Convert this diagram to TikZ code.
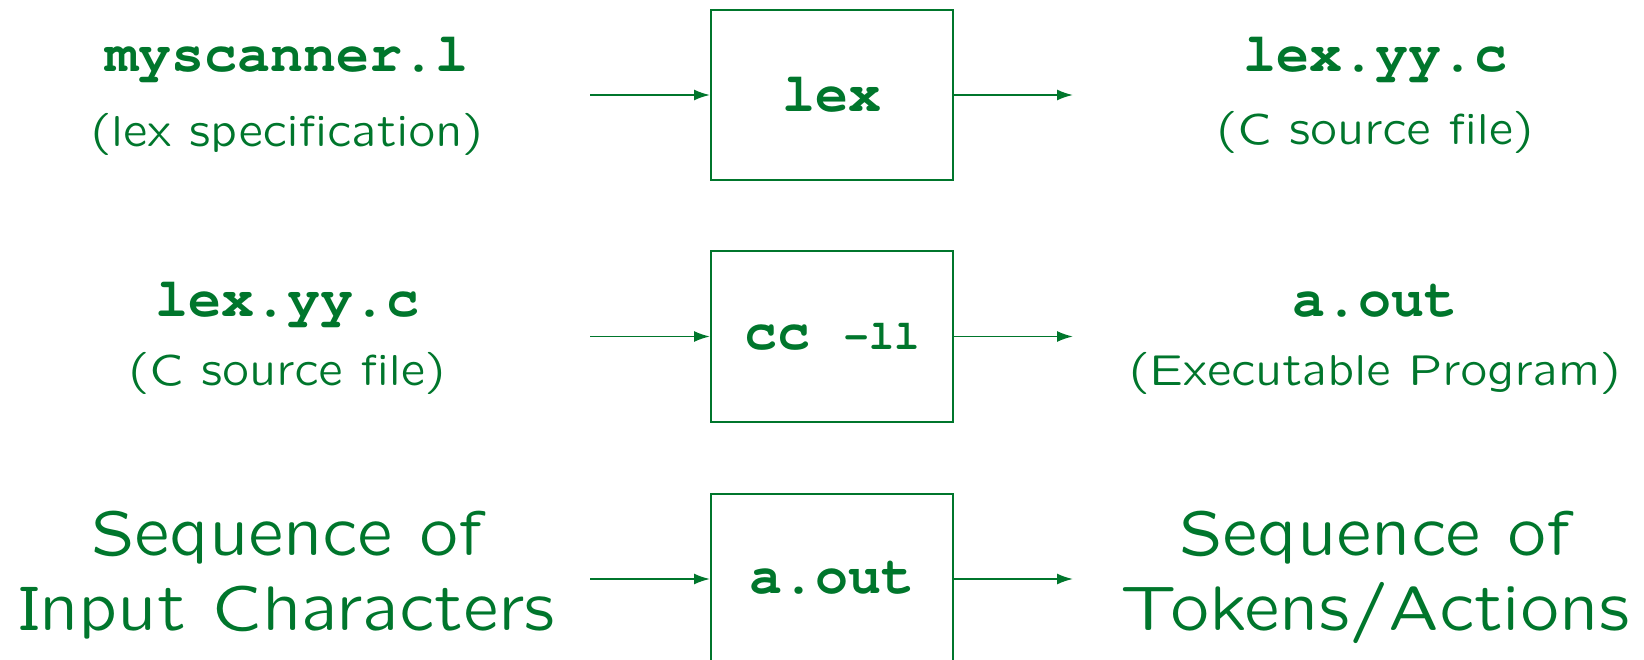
\documentclass[tikz,border=0pt]{standalone}
\usepackage{fontspec}
\usetikzlibrary{arrows.meta}
\definecolor{lexgreen}{RGB}{0,118,44}
\DeclareFontFamily{OT1}{lexslidesans}{\hyphenchar\font=-1 }
\DeclareFontShape{OT1}{lexslidesans}{m}{n}{<-> lcmss8}{}
\newcommand\slidesans{\fontencoding{OT1}\fontfamily{lexslidesans}\fontseries{m}\fontshape{n}\selectfont}
\newcommand\monofam{\fontencoding{OT1}\fontfamily{pcr}\fontseries{b}\fontshape{n}\selectfont}
\tikzset{
  procbox/.style={draw=lexgreen, line width=2pt, minimum width=242pt, minimum height=170pt, inner sep=0pt, text=lexgreen, font=\monofam\fontsize{55}{60}\selectfont},
  flow/.style={draw=lexgreen, line width=1.8pt, -{Latex[length=16pt,width=11pt]}},
  fname/.style={anchor=base, inner sep=0pt, text=lexgreen, font=\monofam\fontsize{55}{60}\selectfont},
  note/.style={anchor=base, inner sep=0pt, text=lexgreen, font=\slidesans\fontsize{43.3}{50}\selectfont},
  bignote/.style={anchor=base, inner sep=0pt, text=lexgreen, font=\slidesans\fontsize{63}{72}\selectfont}
}
\begin{document}
\begin{tikzpicture}[x=1pt,y=-1pt]
\useasboundingbox (0,0) rectangle (1644,660);
\clip (0,0) rectangle (1644,660);
% row 1
\node[procbox] (lex) at (832,95) {lex};
\coordinate (in1) at (590,95);
\coordinate (out1) at (1073,95);
\draw[flow] (in1) -- (lex.west);
\draw[flow] (lex.east) -- (out1);
\node[fname] (spec) at (287,72) {myscanner.l};
\node[note] (specnote) at (287,147) {(lex specification)};
\node[fname] (csrc) at (1375,72) {lex.yy.c};
\node[note] (csrcnote) at (1375,145) {(C source file)};
% row 2
\node[procbox] (cc) at (832,336.5) {cc {\fontsize{42}{48}\selectfont -ll}};
\coordinate (in2) at (590,336.5);
\coordinate (out2) at (1073,336.5);
\draw[flow] (in2) -- (cc.west);
\draw[flow] (cc.east) -- (out2);
\node[fname] (csrc2) at (287,316.7) {lex.yy.c};
\node[note] (csrc2note) at (287,385) {(C source file)};
\node[fname] (aout) at (1375,316.7) {a.out};
\node[note] (aoutnote) at (1375,385) {(Executable Program)};
% row 3
\node[procbox] (run) at (832,579) {a.out};
\coordinate (in3) at (590,579);
\coordinate (out3) at (1073,579);
\draw[flow] (in3) -- (run.west);
\draw[flow] (run.east) -- (out3);
\node[bignote] (seqin) at (287,555) {Sequence of};
\node[bignote] (seqin2) at (287,630.7) {Input Characters};
\node[bignote] (seqout) at (1375,555) {Sequence of};
\node[bignote] (seqout2) at (1375,630.7) {Tokens/Actions};
\end{tikzpicture}
\end{document}
